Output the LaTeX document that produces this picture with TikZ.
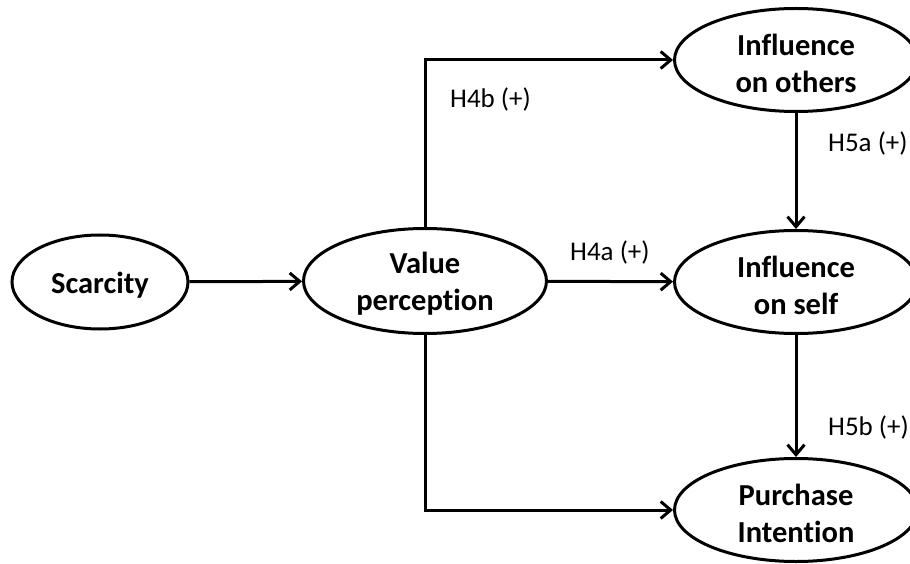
\documentclass[tikz,border=0pt]{standalone}
\usepackage{fontspec}
\setmainfont{Carlito}[Ligatures=NoCommon]
\usetikzlibrary{shapes.geometric,arrows.meta}
\newcommand{\topstrut}{\rule{0pt}{27.5pt}}
\begin{document}
\begin{tikzpicture}[x=1pt,y=-1pt,
  construct/.style={ellipse,draw,line width=3pt,inner sep=0pt,align=center,
    font=\bfseries\fontsize{30.5}{37}\selectfont},
  hyp/.style={anchor=west,inner sep=0pt,font=\fontsize{27}{30}\selectfont},
  link/.style={line width=3pt,-{Straight Barb[length=10pt,width=17pt,line width=3pt]}}]
\useasboundingbox (0,0) rectangle (910,564);
\node[construct,minimum width=176pt,minimum height=94pt] (sc) at (100,282) {\topstrut Scarcity};
\node[construct,minimum width=243pt,minimum height=105pt] (vp) at (425,281) {\topstrut Value\\perception};
\node[construct,minimum width=243pt,minimum height=103pt] (ioo) at (796,60) {\topstrut Influence\\on others};
\node[construct,minimum width=243pt,minimum height=103pt] (ios) at (796,282) {\topstrut Influence\\on self};
\node[construct,minimum width=243pt,minimum height=103pt] (pi) at (796,510) {\topstrut Purchase\\Intention};
\node[hyp] (h4b) at (450,99) {H4b (+)};
\node[hyp] (h4a) at (570,252) {H4a (+)};
\node[hyp] (h5a) at (828,143) {H5a (+)};
\node[hyp] (h5b) at (828,427) {H5b (+)};
\draw[link] (sc) -- (vp);
\draw[link] (vp) -- (ios);
\draw[link] (vp.north) |- (ioo.west);
\draw[link] (vp.south) |- (pi.west);
\draw[link] (ioo) -- (ios);
\draw[link] (ios) -- (pi);
\end{tikzpicture}
\end{document}
